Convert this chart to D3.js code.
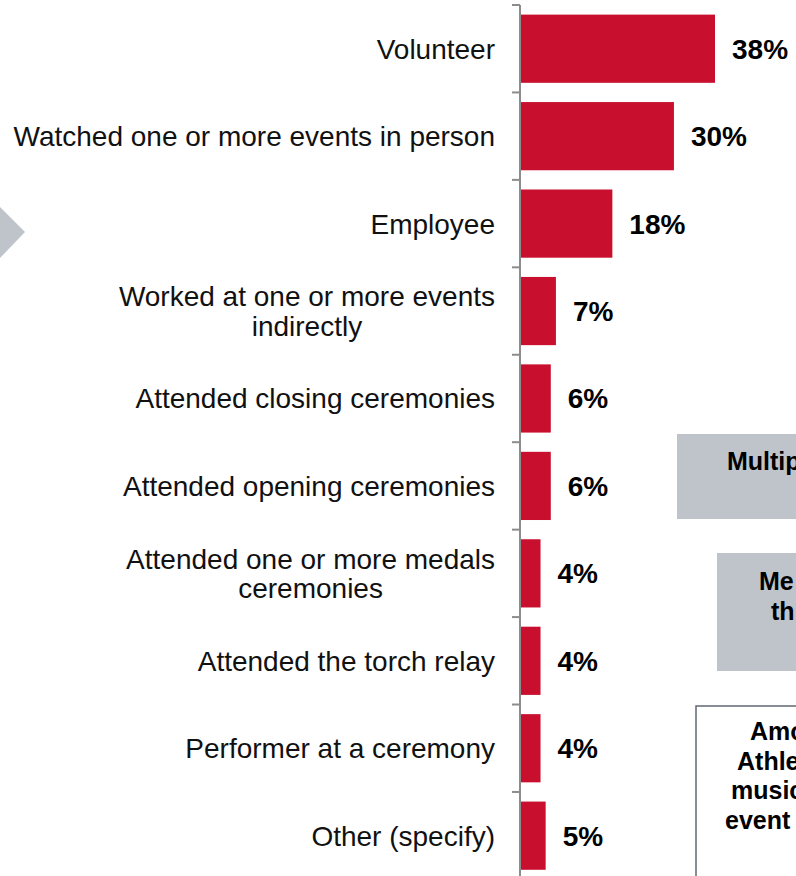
<!DOCTYPE html>
<html>
<head>
<meta charset="utf-8">
<script src="https://cdn.jsdelivr.net/npm/d3@7"></script>
<style>
  body { margin: 0; background: #fff; }
  svg { display: block; font-family: "Liberation Sans", Arial, sans-serif; }
</style>
</head>
<body>
<svg width="796" height="876"></svg>
<script>
var categories = [
  ["Volunteer"],
  ["Watched one or more events in person"],
  ["Employee"],
  ["Worked at one or more events", "indirectly"],
  ["Attended closing ceremonies"],
  ["Attended opening ceremonies"],
  ["Attended one or more medals", "ceremonies"],
  ["Attended the torch relay"],
  ["Performer at a ceremony"],
  ["Other (specify)"]
];
var values = [38, 30, 18, 7, 6, 6, 4, 4, 4, 5];

// side notes, cut off by the right edge of the picture
var noteMulti = ["Multip"];
var noteMedal = ["Me", "th"];
var noteAmong = ["Amo", "Athle", "music", "event"];

var svg = d3.select("svg");
var red = "#c8102e", grey = "#bec4ca";

var y = d3.scaleBand()
    .domain(d3.range(values.length))
    .range([5, 879.4])
    .paddingInner(0.22)
    .paddingOuter(0.11);

var x = d3.scaleLinear()
    .domain([0, 38])
    .range([520, 715]);

// left arrow
svg.append("path")
    .attr("d", "M0,207L25,232L0,258Z")
    .attr("fill", grey);

// bars
svg.append("g").selectAll("rect")
    .data(values)
  .enter().append("rect")
    .attr("x", x(0))
    .attr("y", function(d, i) { return y(i); })
    .attr("width", function(d) { return x(d) - x(0); })
    .attr("height", y.bandwidth())
    .attr("fill", red);

// axis line and ticks between categories
var axis = svg.append("g").attr("stroke", "#8c8c8c").attr("stroke-width", 2);
axis.append("line")
    .attr("x1", x(0)).attr("x2", x(0))
    .attr("y1", 5).attr("y2", 880);
var half = y.step() * y.paddingInner() / 2;
axis.selectAll(".tick")
    .data(d3.range(values.length + 1))
  .enter().append("line")
    .attr("x1", x(0) - 8).attr("x2", x(0))
    .attr("y1", function(i) { return i < values.length ? y(i) - half : y(i - 1) + y.bandwidth() + half; })
    .attr("y2", function(i) { return i < values.length ? y(i) - half : y(i - 1) + y.bandwidth() + half; });

// category labels: block right aligned, lines centred within it
var lineH = 29.5, right = x(0) - 25;
svg.append("g").selectAll("text")
    .data(categories)
  .enter().append("text")
    .attr("text-anchor", "middle")
    .attr("font-size", 28)
    .attr("fill", "#111")
    .each(function(lines, i) {
      var t = d3.select(this);
      var cy = y(i) + y.bandwidth() / 2 + 10 - (lines.length - 1) * lineH / 2;
      var spans = t.selectAll("tspan")
          .data(lines)
        .enter().append("tspan")
          .attr("y", function(d, j) { return cy + j * lineH; })
          .text(function(d) { return d; });
      var w = d3.max(spans.nodes(), function(n) { return n.getComputedTextLength(); });
      spans.attr("x", right - w / 2);
    });

// value labels
svg.append("g").selectAll("text")
    .data(values)
  .enter().append("text")
    .attr("x", function(d) { return x(d) + 17; })
    .attr("y", function(d, i) { return y(i) + y.bandwidth() / 2 + 10; })
    .attr("font-size", 28)
    .attr("font-weight", "bold")
    .attr("fill", "#000")
    .text(function(d) { return d + "%"; });

// note boxes on the right
svg.append("rect").attr("x", 677).attr("y", 434).attr("width", 140).attr("height", 85).attr("fill", grey);
svg.append("rect").attr("x", 717).attr("y", 553).attr("width", 100).attr("height", 118).attr("fill", grey);
svg.append("rect").attr("x", 696).attr("y", 706).attr("width", 130).attr("height", 200)
    .attr("fill", "#fff").attr("stroke", "#5f6873").attr("stroke-width", 1.5);

function note(lines, xs, y0) {
  svg.append("g").selectAll("text")
      .data(lines)
    .enter().append("text")
      .attr("x", function(d, i) { return xs[i]; })
      .attr("y", function(d, i) { return y0 + i * 29.5; })
      .attr("font-size", 25)
      .attr("font-weight", "bold")
      .attr("fill", "#000")
      .text(function(d) { return d; });
}
note(noteMulti, [727], 470);
note(noteMedal, [759, 771], 590);
note(noteAmong, [750, 737, 731, 725], 740);
</script>
</body>
</html>
